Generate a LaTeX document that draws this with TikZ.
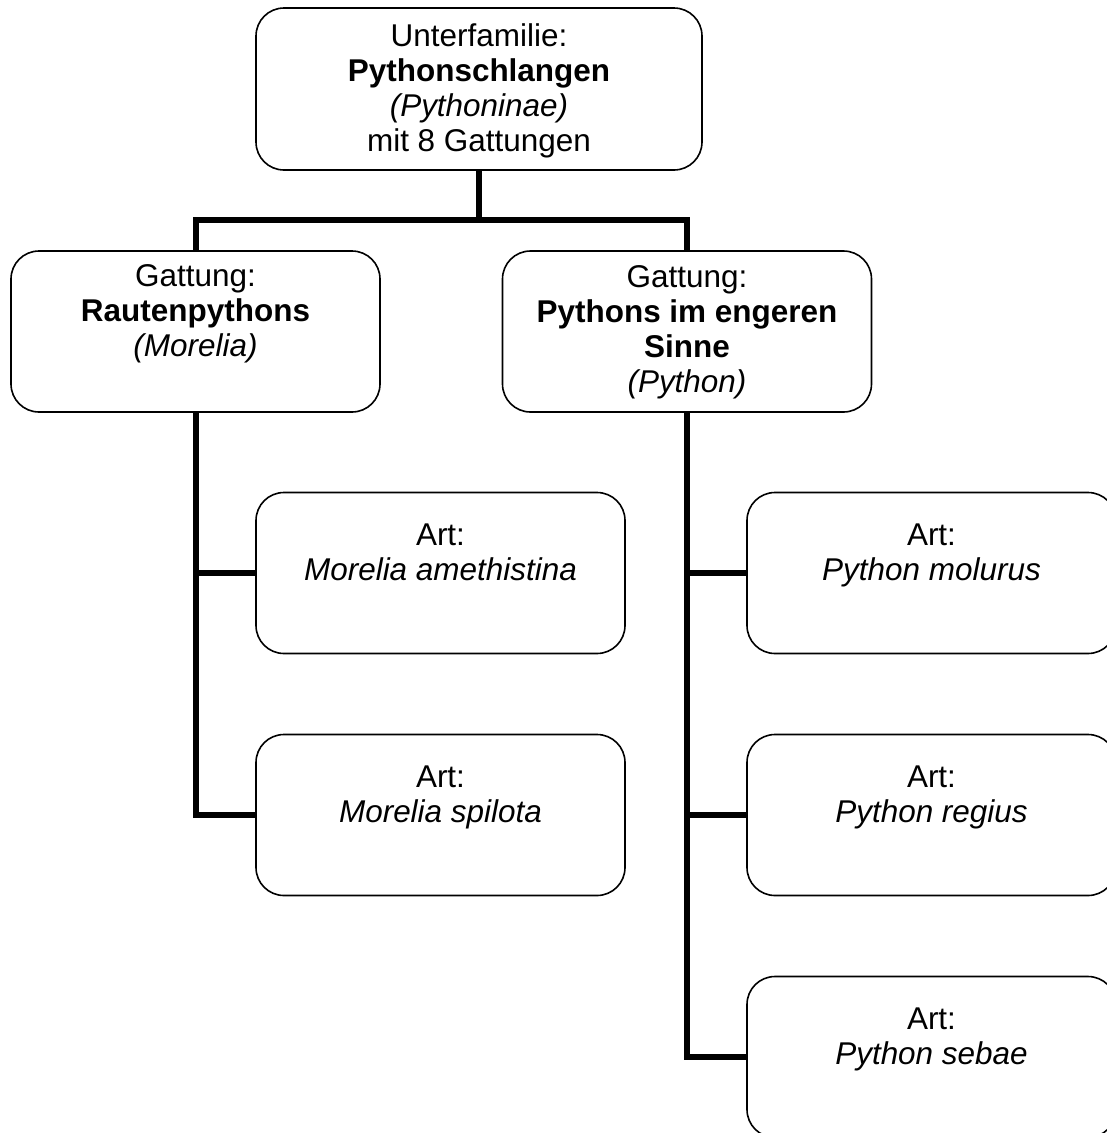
\documentclass[tikz,border=0pt]{standalone}
\usepackage{fontspec}
\setmainfont{Liberation Sans}
\newcommand{\firstline}{\rule{0pt}{18.75pt}}
\begin{document}
\begin{tikzpicture}[x=0.75pt,y=-0.75pt]
\tikzset{
  taxon/.style={draw, line width=1.2pt, rounded corners=21pt, inner sep=0pt,
                minimum width=276.75pt, minimum height=120.75pt},
  rootbox/.style={taxon, minimum width=334.5pt, minimum height=121.5pt},
  conn/.style={line width=4.5pt},
  txt/.style={align=center, inner sep=0pt, anchor=north,
              font=\fontsize{23.6pt}{26.2pt}\selectfont}
}
\useasboundingbox (0,0) rectangle (1107,1133);
\clip (0,0) rectangle (1107,1133);

% boxes
\node[rootbox] (top) at (479,89) {};
\node[taxon] (g1) at (195.5,331.5) {};
\node[taxon] (g2) at (687,331.5) {};
\node[taxon] (a1) at (440.5,573) {};
\node[taxon] (a2) at (440.5,815) {};
\node[taxon] (p1) at (931.5,573) {};
\node[taxon] (p2) at (931.5,815) {};
\node[taxon] (p3) at (931.5,1057) {};

% texts
\node[txt] (ttop) at (479,21) {\firstline Unterfamilie:\\ \textbf{Pythonschlangen}\\ \textit{(Pythoninae)}\\ mit 8 Gattungen};
\node[txt] (tg1) at (195.5,261) {\firstline Gattung:\\ \textbf{Rautenpythons}\\ \textit{(Morelia)}};
\node[txt] (tg2) at (687,262) {\firstline Gattung:\\ \textbf{Pythons im engeren}\\ \textbf{Sinne}\\ \textit{(Python)}};
\node[txt] (ta1) at (440.5,520) {\firstline Art:\\ \textit{Morelia amethistina}};
\node[txt] (ta2) at (440.5,762) {\firstline Art:\\ \textit{Morelia spilota}};
\node[txt] (tp1) at (931.5,520) {\firstline Art:\\ \textit{Python molurus}};
\node[txt] (tp2) at (931.5,762) {\firstline Art:\\ \textit{Python regius}};
\node[txt] (tp3) at (931.5,1004) {\firstline Art:\\ \textit{Python sebae}};

% connectors
\coordinate (hub) at (479,220);
\draw[conn] (top.south) -- (hub);
\draw[conn] (g1.north) |- (g2.north |- hub) -- (g2.north);
\draw[conn] (g1.south) |- (a2.west);
\draw[conn] (g1.south |- a1.west) -- (a1.west);
\draw[conn] (g2.south) |- (p3.west);
\draw[conn] (g2.south |- p1.west) -- (p1.west);
\draw[conn] (g2.south |- p2.west) -- (p2.west);
\end{tikzpicture}
\end{document}
